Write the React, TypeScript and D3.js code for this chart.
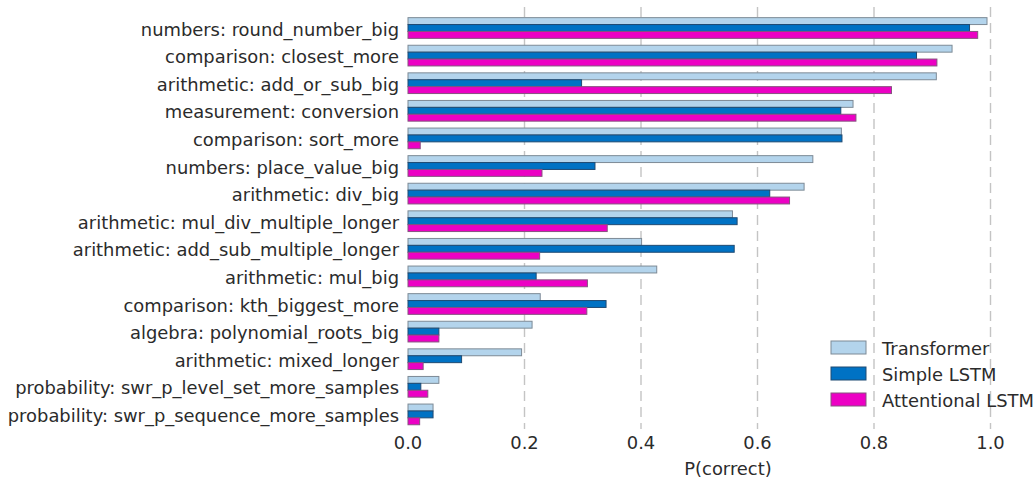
import React from "react";
import * as d3 from "d3";

const categories = [
  "numbers: round_number_big",
  "comparison: closest_more",
  "arithmetic: add_or_sub_big",
  "measurement: conversion",
  "comparison: sort_more",
  "numbers: place_value_big",
  "arithmetic: div_big",
  "arithmetic: mul_div_multiple_longer",
  "arithmetic: add_sub_multiple_longer",
  "arithmetic: mul_big",
  "comparison: kth_biggest_more",
  "algebra: polynomial_roots_big",
  "arithmetic: mixed_longer",
  "probability: swr_p_level_set_more_samples",
  "probability: swr_p_sequence_more_samples",
];

const transformer = [0.994, 0.934, 0.907, 0.764, 0.744, 0.695, 0.68, 0.557, 0.401, 0.427, 0.227, 0.213, 0.195, 0.053, 0.043];
const simpleLSTM = [0.964, 0.873, 0.298, 0.743, 0.745, 0.321, 0.621, 0.565, 0.56, 0.22, 0.34, 0.053, 0.092, 0.022, 0.043];
const attentionalLSTM = [0.978, 0.908, 0.83, 0.769, 0.021, 0.23, 0.655, 0.342, 0.226, 0.308, 0.307, 0.053, 0.026, 0.034, 0.02];

const seriesNames = ["Transformer", "Simple LSTM", "Attentional LSTM"];
const xTicks = [0, 0.2, 0.4, 0.6, 0.8, 1.0];

const fills = ["#b3d4ec", "#0072c4", "#ec00c4"];
const strokes = ["#7d8a96", "#1f4a72", "#86527f"];

export default function App() {
  const width = 1034;
  const height = 477;
  const x = d3.scaleLinear().domain([0, 1]).range([408, 990.5]);
  const y = d3.scaleBand<string>().domain(categories).range([14.2, 428.2]).padding(0);
  const bw = y.bandwidth();
  const barH = bw * 0.25;
  const series = [transformer, simpleLSTM, attentionalLSTM];
  const font = "DejaVu Sans, sans-serif";
  const textColor = "#2b2b2b";
  const fs = 17.9;

  return (
    <svg width={width} height={height} style={{ position: "absolute", left: 0, top: 0 }} fontFamily={font}>
      <rect x={0} y={0} width={width} height={height} fill="#ffffff" />
      {xTicks.filter((t) => t > 0).map((t) => (
        <line key={t} x1={x(t)} x2={x(t)} y1={7} y2={429} stroke="#c4c4c4" strokeWidth={1.4} strokeDasharray="10,6" />
      ))}
      {categories.map((c, i) => {
        const cy = (y(c) as number) + bw / 2;
        return (
          <g key={c}>
            {series.map((s, k) => (
              <rect
                key={k}
                x={x(0)}
                y={cy - 1.5 * barH + k * barH}
                width={x(s[i]) - x(0)}
                height={barH}
                fill={fills[k]}
                stroke={strokes[k]}
                strokeWidth={1}
              />
            ))}
            <text x={399} y={cy + 1} textAnchor="end" dominantBaseline="central" fontSize={fs} fill={textColor}>
              {c}
            </text>
          </g>
        );
      })}
      {xTicks.map((t) => (
        <text key={t} x={x(t)} y={442} textAnchor="middle" dominantBaseline="central" fontSize={fs} fill={textColor}>
          {d3.format(".1f")(t)}
        </text>
      ))}
      <text x={728} y={468} textAnchor="middle" dominantBaseline="central" fontSize={fs} fill={textColor}>
        P(correct)
      </text>
      {seriesNames.map((n, k) => (
        <g key={n}>
          <rect x={831} y={341 + k * 26} width={35} height={13} fill={fills[k]} stroke={strokes[k]} strokeWidth={1} />
          <text x={882} y={348 + k * 26} dominantBaseline="central" fontSize={fs} fill={textColor}>
            {n}
          </text>
        </g>
      ))}
    </svg>
  );
}
